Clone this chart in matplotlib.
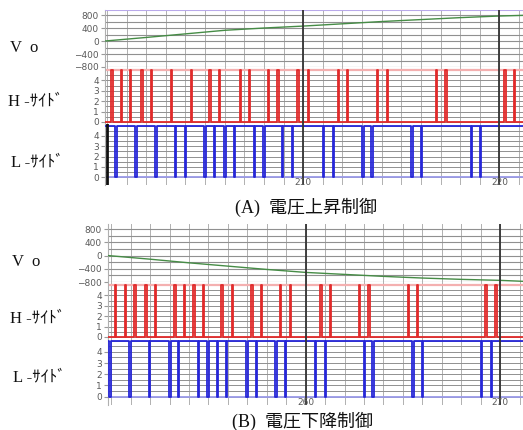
import matplotlib
matplotlib.use("Agg")
import matplotlib.pyplot as plt
import numpy as np

plt.rcParams['font.family'] = ['Liberation Serif', 'Noto Sans CJK JP', 'DejaVu Sans']

# ---- (A) 電圧上昇制御 ----
a_vo_t = [199.9, 202, 204, 206, 208, 210, 212, 214, 216, 218, 220, 221.2]
a_vo_v = [0, 110, 220, 330, 400, 460, 530, 600, 660, 720, 770, 790]
# centres of the narrow gate pulses
a_h_pulses = [200.26, 200.73, 201.21, 201.79, 202.26, 203.28, 204.30, 205.26, 205.73,
              206.81, 207.27, 208.24, 208.72, 209.74, 210.26, 211.79, 212.27,
              213.78, 214.29, 216.79, 217.27, 220.28, 220.76]
a_l_pulses = [200.47, 201.48, 202.50, 203.49, 204.00, 205.00, 205.49, 206.02, 206.49,
              207.52, 208.00, 208.95, 209.47, 211.05, 211.53, 213.05, 213.50,
              215.55, 216.03, 218.56, 219.05]
a_xlim = (199.9, 221.2)
a_major = [210, 220]

# ---- (B) 電圧下降制御 ----
b_vo_t = [249.83, 252, 254, 256, 258, 260, 262, 264, 266, 268, 270, 271.2]
b_vo_v = [0, -110, -220, -320, -420, -510, -570, -630, -680, -720, -750, -780]
b_h_pulses = [250.22, 250.73, 251.22, 251.78, 252.27, 253.27, 253.75, 254.26, 254.75,
              255.70, 256.23, 257.24, 257.72, 258.70, 259.22, 260.78, 261.27,
              262.76, 263.25, 265.28, 265.75, 269.28, 269.80]
b_l_pulses = [249.93, 250.96, 251.98, 253.02, 253.47, 254.48, 254.97, 255.47, 255.94,
              256.99, 257.46, 258.48, 258.97, 260.52, 261.03, 263.01, 263.47,
              265.52, 266.02, 269.06, 269.56]
b_xlim = (249.83, 271.18)
b_major = [260, 270]

vo_ticks = [-800, -400, 0, 400, 800]
pulse_ticks = [0, 1, 2, 3, 4]
PW = 0.07  # pulse width

W, H = 523, 430
fig = plt.figure(figsize=(W / 100, H / 100), dpi=100)

GRID_H = '#909090'
GRID_V = '#b0b0b0'
TXT = '#5a5a5a'


def rect(left, top, bottom):
    return [left / W, 1 - bottom / H, (W - left) / W, (bottom - top) / H]


def pulses(centres, base_lvl, peak, x0, x1):
    xs, ys = [x0], [base_lvl]
    for c in centres:
        xs += [c - PW / 2, c - PW / 2, c + PW / 2, c + PW / 2]
        ys += [base_lvl, peak, peak, base_lvl]
    xs.append(x1)
    ys.append(base_lvl)
    return xs, ys


def base(ax, xlim):
    ax.set_xlim(*xlim)
    ax.set_xticks(np.arange(np.ceil(xlim[0]), xlim[1], 1.0), minor=True)
    ax.set_xticks([])
    ax.grid(which='minor', axis='x', color=GRID_V, lw=0.7, zorder=0)
    for s in ['top', 'right', 'bottom']:
        ax.spines[s].set_visible(False)
    ax.spines['left'].set_color('#b0b0b0')
    ax.spines['left'].set_linewidth(0.8)
    ax.tick_params(axis='y', which='major', labelsize=6.5, labelcolor=TXT,
                   length=3, color='#9a9a9a', pad=1.5)
    ax.tick_params(axis='y', which='minor', length=0)
    ax.tick_params(axis='x', which='minor', length=0)
    for lab in ax.get_yticklabels():
        lab.set_family('DejaVu Sans')


def panel(left, tops, xlim, vo_t, vo_v, h_p, l_p, major, mark_left, top_color):
    t0, t1, t2, t3 = tops
    ax_v = fig.add_axes(rect(left, t0, t1))
    ax_h = fig.add_axes(rect(left, t1, t2))
    ax_l = fig.add_axes(rect(left, t2, t3))

    # Vo
    ax_v.set_ylim(-800, 955)
    ax_v.set_yticks(vo_ticks)
    ax_v.set_yticks(np.arange(-800, 901, 200), minor=True)
    base(ax_v, xlim)
    ax_v.grid(which='both', axis='y', color=GRID_H, lw=0.8, zorder=0)
    ax_v.plot(vo_t, vo_v, color='#468c46', lw=1.0, zorder=3)
    if top_color:
        ax_v.axhline(955, color=top_color, lw=1.5, zorder=4)

    # H-side
    ax_h.set_ylim(-0.2, 5.3)
    ax_h.set_yticks(pulse_ticks)
    ax_h.set_yticks(np.arange(0, 5.01, 0.5), minor=True)
    base(ax_h, xlim)
    ax_h.grid(which='both', axis='y', color=GRID_H, lw=0.7, zorder=0)
    ax_h.axhline(5, color='#f4b0b0', lw=1.6, zorder=2)
    hx, hy = pulses(h_p, 0, 5, xlim[0], xlim[1])
    ax_h.plot(hx, hy, color='#e12a2a', lw=1.3, zorder=3)

    # L-side
    ax_l.set_ylim(-0.75, 5.15)
    ax_l.set_yticks(pulse_ticks)
    ax_l.set_yticks(np.arange(0, 5.01, 0.5), minor=True)
    base(ax_l, xlim)
    ax_l.grid(which='both', axis='y', color=GRID_H, lw=0.7, zorder=0)
    ax_l.axhline(0, color='#9a9ae8', lw=1.3, zorder=2)
    lx, ly = pulses(l_p, 5, 0, xlim[0], xlim[1])
    ax_l.plot(lx, ly, color='#2626d8', lw=1.3, zorder=3)
    if mark_left is not None:
        ax_l.axvline(mark_left, color='#111111', lw=2.0, zorder=4)

    for ax in (ax_v, ax_h, ax_l):
        for m in major:
            ax.axvline(m, color='#333333', lw=1.3, zorder=5)
    for m in major:
        ax_l.text(m, -0.12, str(m), ha='center', va='top', fontsize=6.5,
                  color=TXT, family='DejaVu Sans', zorder=6)
    return ax_v, ax_h, ax_l


panel(105, (10, 67, 124, 185), a_xlim, a_vo_t, a_vo_v, a_h_pulses, a_l_pulses,
      a_major, 200.0, '#b9a9ea')
panel(108, (224, 282, 339, 405), b_xlim, b_vo_t, b_vo_v, b_h_pulses, b_l_pulses,
      b_major, None, None)

# left-side labels
labels = [
    (10, 48, 'V  o'), (8, 101, 'H -ｻｲﾄﾞ'), (11, 162, 'L -ｻｲﾄﾞ'),
    (12, 262, 'V  o'), (10, 318, 'H -ｻｲﾄﾞ'), (13, 377, 'L -ｻｲﾄﾞ'),
]
for x, y, s in labels:
    fig.text(x / W, 1 - y / H, s, fontsize=12, va='center', ha='left', color='#111111')

fig.text(306 / W, 1 - 207 / H, '(A)  電圧上昇制御', fontsize=13, ha='center', va='center',
         color='#111111')
fig.text(303 / W, 1 - 421 / H, '(B)  電圧下降制御', fontsize=13, ha='center', va='center',
         color='#111111')

fig.savefig('out.png', dpi=100, facecolor='white')
